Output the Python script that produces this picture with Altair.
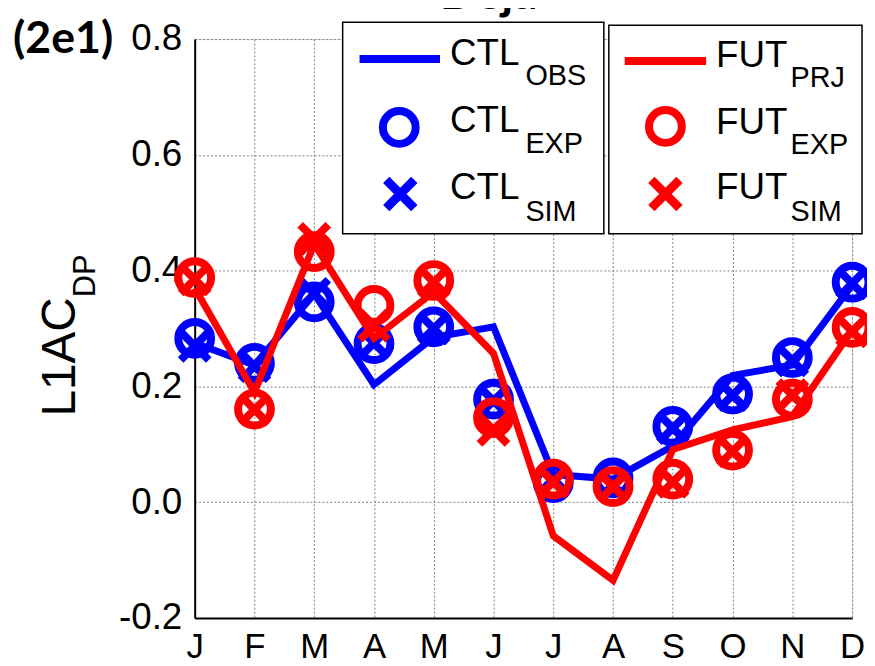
import altair as alt
import pandas as pd

# ---------------- data ----------------
months = ["J", "F", "M", "A", "M", "J", "J", "A", "S", "O", "N", "D"]
month_idx = list(range(12))

ctl_obs = [0.275, 0.237, 0.360, 0.203, 0.285, 0.303, 0.048, 0.040, 0.097, 0.219, 0.237, 0.375]
ctl_exp = [0.283, 0.240, 0.346, 0.274, 0.303, 0.178, 0.034, 0.042, 0.131, 0.187, 0.250, 0.380]
ctl_sim = [0.270, 0.235, 0.360, 0.275, 0.300, 0.175, 0.040, 0.030, 0.128, 0.185, 0.245, 0.378]
fut_prj = [0.370, 0.190, 0.446, 0.283, 0.363, 0.257, -0.058, -0.135, 0.091, 0.125, 0.148, 0.297]
fut_exp = [0.388, 0.161, 0.433, 0.340, 0.383, 0.146, 0.040, 0.027, 0.040, 0.090, 0.178, 0.302]
fut_sim = [0.385, 0.160, 0.455, 0.305, 0.380, 0.125, 0.035, 0.027, 0.035, 0.088, 0.185, 0.295]

y_ticks = [-0.2, 0.0, 0.2, 0.4, 0.6, 0.8]

panel_label = "(2e1)"
title_text = "Deja"
ylab_main, ylab_sub = "L1AC", "DP"

legend_left = [("CTL", "OBS"), ("CTL", "EXP"), ("CTL", "SIM")]
legend_right = [("FUT", "PRJ"), ("FUT", "EXP"), ("FUT", "SIM")]

BLUE = "#0000ff"
RED = "#ff0000"
FONT = "Liberation Sans"
XPATH = "M-1,-1L1,1M-1,1L1,-1"
CIRC_SIZE = 1090
X_SIZE = 800

W, H = 662, 583

# ---------------- scales / axes ----------------
month_expr = "[" + ",".join("'%s'" % m for m in months) + "][datum.value]"

x_enc = alt.X(
    "m:Q",
    scale=alt.Scale(domain=[0, 11], nice=False, zero=False),
    axis=alt.Axis(
        values=month_idx, labelExpr=month_expr, title="", grid=True, ticks=False,
        labelPadding=12, labelFontSize=35, labelFont=FONT, labelColor="black",
        labelAngle=0, labelFlush=False, labelOverlap=False,
        domainColor="black", domainWidth=2,
        gridColor="#808080", gridDash=[2, 2], gridWidth=1,
    ),
)
y_enc = alt.Y(
    "v:Q",
    scale=alt.Scale(domain=[-0.2, 0.8], nice=False, zero=False),
    axis=alt.Axis(
        values=y_ticks,
        labelExpr="datum.value < -0.0001 ? '-' + format(-datum.value, '.1f') : format(abs(datum.value), '.1f')",
        title="", grid=True, ticks=False,
        labelPadding=13, labelFontSize=37, labelFont=FONT, labelColor="black",
        labelFlush=False, labelOverlap=False,
        domainColor="black", domainWidth=2,
        gridColor="#808080", gridDash=[2, 2], gridWidth=1,
    ),
)


def frame(vals):
    return pd.DataFrame({"m": month_idx, "v": vals})


def line_layer(vals, color):
    return alt.Chart(frame(vals)).mark_line(color=color, strokeWidth=7).encode(x=x_enc, y=y_enc)


def circ_layer(vals, color):
    return alt.Chart(frame(vals)).mark_point(
        shape="circle", filled=False, size=CIRC_SIZE, strokeWidth=8, color=color, opacity=1
    ).encode(x=x_enc, y=y_enc)


def x_layer(vals, color):
    return alt.Chart(frame(vals)).mark_point(
        shape=XPATH, filled=False, size=X_SIZE, strokeWidth=8, color=color, opacity=1
    ).encode(x=x_enc, y=y_enc)


layers = [
    line_layer(ctl_obs, BLUE), circ_layer(ctl_exp, BLUE), x_layer(ctl_sim, BLUE),
    line_layer(fut_prj, RED), circ_layer(fut_exp, RED), x_layer(fut_sim, RED),
]

# ---------------- decorations (legend boxes, texts) ----------------
one = pd.DataFrame({"k": [0]})

# legend boxes (pixel positions relative to plot origin)
for (bx, bx2, by, by2) in [(149, 412, -17, 196), (417, 672, -14, 196)]:
    layers.append(
        alt.Chart(one).mark_rect(fill="white", stroke="black", strokeWidth=1.5).encode(
            x=alt.value(bx), x2=alt.value(bx2), y=alt.value(by), y2=alt.value(by2)
        )
    )

legend_cfg = [
    # color, line (x1,x2,y), circle (x,y), cross (x,y), text x, sub x, baselines, sub baselines, entries
    (BLUE, (166, 247, 20), (206, 89), (207, 156), 257, 333, [26, 94, 161], [46, 115, 183], legend_left),
    (RED, (433, 515, 22), (474, 88), (474, 156), 525, 600, [28, 96, 161], [48, 116, 183], legend_right),
]
for color, (lx1, lx2, ly), (cx, cy), (xx, xy), tx, sx, tys, sys_, entries in legend_cfg:
    layers.append(
        alt.Chart(one).mark_rule(color=color, strokeWidth=8).encode(
            x=alt.value(lx1), x2=alt.value(lx2), y=alt.value(ly)
        )
    )
    layers.append(
        alt.Chart(one).mark_point(shape="circle", filled=False, size=CIRC_SIZE, strokeWidth=8,
                                  color=color, opacity=1).encode(x=alt.value(cx), y=alt.value(cy))
    )
    layers.append(
        alt.Chart(one).mark_point(shape=XPATH, filled=False, size=X_SIZE, strokeWidth=9,
                                  color=color, opacity=1).encode(x=alt.value(xx), y=alt.value(xy))
    )
    for (main, sub), ty, sy in zip(entries, tys, sys_):
        layers.append(
            alt.Chart(one).mark_text(text=main, font=FONT, fontSize=37, align="left",
                                     baseline="alphabetic", color="black").encode(
                x=alt.value(tx), y=alt.value(ty))
        )
        layers.append(
            alt.Chart(one).mark_text(text=sub, font=FONT, fontSize=29, align="left",
                                     baseline="alphabetic", color="black").encode(
                x=alt.value(sx), y=alt.value(sy))
        )

# y-axis title with subscript (rotated)
layers.append(
    alt.Chart(one).mark_text(text=ylab_main, font=FONT, fontSize=48, angle=270, align="left",
                             baseline="alphabetic", color="black").encode(
        x=alt.value(-121), y=alt.value(380))
)
layers.append(
    alt.Chart(one).mark_text(text=ylab_sub, font=FONT, fontSize=31, angle=270, align="left",
                             baseline="alphabetic", color="black").encode(
        x=alt.value(-100), y=alt.value(260))
)
# panel label and (cropped, as in the reference) title
layers.append(
    alt.Chart(one).mark_text(text=panel_label, font="Lato", fontSize=45, fontWeight="bold",
                             align="left", baseline="alphabetic", color="black").encode(
        x=alt.value(-183), y=alt.value(14))
)
layers.append(
    alt.Chart(one).mark_text(text=title_text, font="Lato", fontSize=48, fontWeight="bold",
                             align="center", baseline="alphabetic", color="black").encode(
        x=alt.value(296), y=alt.value(-30))
)

chart = alt.layer(*layers).properties(
    width=W, height=H,
    autosize=alt.AutoSizeParams(type="none"),
    padding={"left": 188, "top": 29, "right": 15, "bottom": 45},
).configure_view(stroke="black", strokeWidth=2).configure(background="white")

chart.save("out.html", embed_options={"renderer": "svg", "actions": False})
